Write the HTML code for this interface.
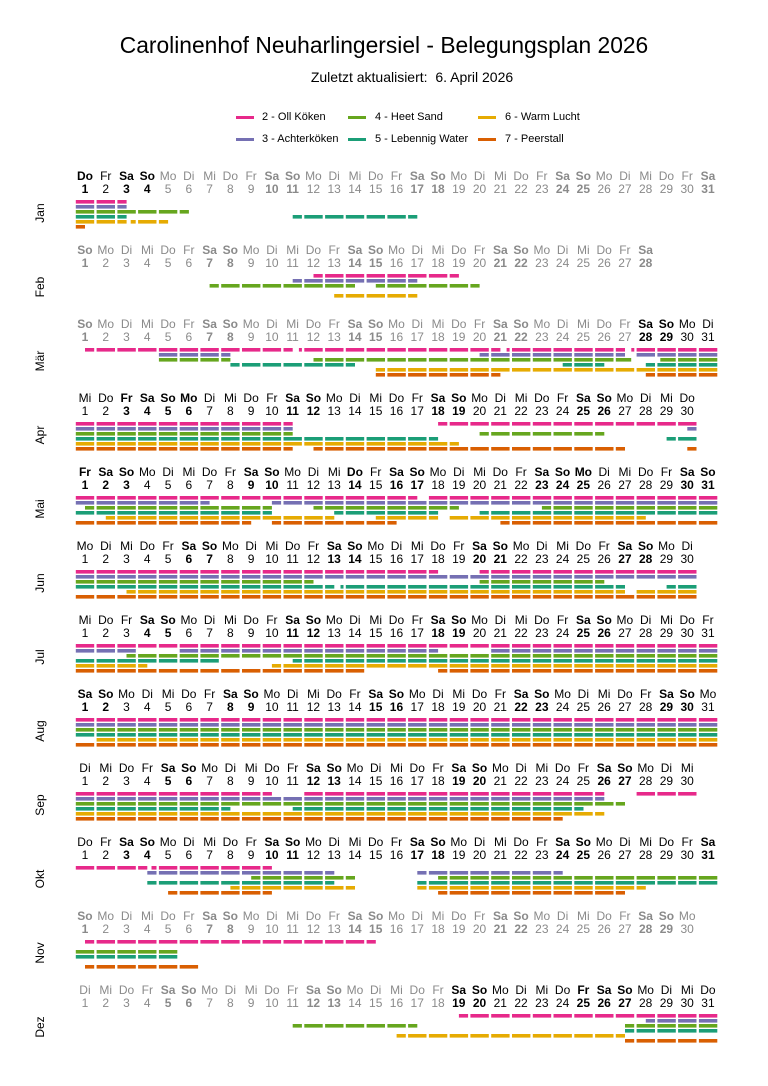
<!DOCTYPE html>
<html><head><meta charset="utf-8">
<style>
body{margin:0;background:#fff;width:768px;height:1086px;position:relative;overflow:hidden;font-family:"Liberation Sans",sans-serif;color:#000}
.t{position:absolute;left:0;width:768px;text-align:center}
.r{position:absolute;left:74.6px;display:flex;font-size:12px;line-height:13px;color:#000}
.r i,.r b{display:block;width:20.77px;text-align:center;font-style:normal;white-space:nowrap}
.r b{font-weight:bold}
.r.g{color:#8a8a8a}.r .g{color:#8a8a8a}.r .k{color:#000}
.m{position:absolute;left:20px;width:40px;text-align:center;font-size:12px;transform:rotate(-90deg)}
.lg{position:absolute;font-size:11px;line-height:13px}
.ln{position:absolute;height:3px}
svg{position:absolute;left:0;top:0}
</style></head><body>
<div class="t" style="top:32px;font-size:22.8px">Carolinenhof Neuharlingersiel - Belegungsplan 2026</div>
<div class="t" style="top:69px;font-size:14px;left:28px">Zuletzt aktualisiert:&nbsp; 6. April 2026</div>

<div class="ln" style="left:236px;top:116px;width:18px;background:#e7298a"></div><div class="lg" style="left:262px;top:111px">2 - Oll Köken</div>
<div class="ln" style="left:348px;top:116px;width:18px;background:#66a61e"></div><div class="lg" style="left:375px;top:111px">4 - Heet Sand</div>
<div class="ln" style="left:478px;top:116px;width:18px;background:#e6ab02"></div><div class="lg" style="left:505px;top:111px">6 - Warm Lucht</div>
<div class="ln" style="left:236px;top:138px;width:18px;background:#7570b3"></div><div class="lg" style="left:262px;top:133px">3 - Achterköken</div>
<div class="ln" style="left:348px;top:138px;width:18px;background:#1b9e77"></div><div class="lg" style="left:375px;top:133px">5 - Lebennig Water</div>
<div class="ln" style="left:478px;top:138px;width:18px;background:#d95f02"></div><div class="lg" style="left:505px;top:133px">7 - Peerstall</div>

<div class="m" style="top:206px">Jan</div>
<div class="m" style="top:280px">Feb</div>
<div class="m" style="top:354px">Mär</div>
<div class="m" style="top:428px">Apr</div>
<div class="m" style="top:502px">Mai</div>
<div class="m" style="top:576px">Jun</div>
<div class="m" style="top:650px">Jul</div>
<div class="m" style="top:724px">Aug</div>
<div class="m" style="top:798px">Sep</div>
<div class="m" style="top:872px">Okt</div>
<div class="m" style="top:946px">Nov</div>
<div class="m" style="top:1020px">Dez</div>

<div class="r g" style="top:170px"><b class="k">Do<br>1</b><i class="k">Fr<br>2</i><b class="k">Sa<br>3</b><b class="k">So<br>4</b><i>Mo<br>5</i><i>Di<br>6</i><i>Mi<br>7</i><i>Do<br>8</i><i>Fr<br>9</i><b>Sa<br>10</b><b>So<br>11</b><i>Mo<br>12</i><i>Di<br>13</i><i>Mi<br>14</i><i>Do<br>15</i><i>Fr<br>16</i><b>Sa<br>17</b><b>So<br>18</b><i>Mo<br>19</i><i>Di<br>20</i><i>Mi<br>21</i><i>Do<br>22</i><i>Fr<br>23</i><b>Sa<br>24</b><b>So<br>25</b><i>Mo<br>26</i><i>Di<br>27</i><i>Mi<br>28</i><i>Do<br>29</i><i>Fr<br>30</i><b>Sa<br>31</b></div>

<div class="r g" style="top:244px"><b>So<br>1</b><i>Mo<br>2</i><i>Di<br>3</i><i>Mi<br>4</i><i>Do<br>5</i><i>Fr<br>6</i><b>Sa<br>7</b><b>So<br>8</b><i>Mo<br>9</i><i>Di<br>10</i><i>Mi<br>11</i><i>Do<br>12</i><i>Fr<br>13</i><b>Sa<br>14</b><b>So<br>15</b><i>Mo<br>16</i><i>Di<br>17</i><i>Mi<br>18</i><i>Do<br>19</i><i>Fr<br>20</i><b>Sa<br>21</b><b>So<br>22</b><i>Mo<br>23</i><i>Di<br>24</i><i>Mi<br>25</i><i>Do<br>26</i><i>Fr<br>27</i><b>Sa<br>28</b></div>

<div class="r g" style="top:318px"><b>So<br>1</b><i>Mo<br>2</i><i>Di<br>3</i><i>Mi<br>4</i><i>Do<br>5</i><i>Fr<br>6</i><b>Sa<br>7</b><b>So<br>8</b><i>Mo<br>9</i><i>Di<br>10</i><i>Mi<br>11</i><i>Do<br>12</i><i>Fr<br>13</i><b>Sa<br>14</b><b>So<br>15</b><i>Mo<br>16</i><i>Di<br>17</i><i>Mi<br>18</i><i>Do<br>19</i><i>Fr<br>20</i><b>Sa<br>21</b><b>So<br>22</b><i>Mo<br>23</i><i>Di<br>24</i><i>Mi<br>25</i><i>Do<br>26</i><i>Fr<br>27</i><b class="k">Sa<br>28</b><b class="k">So<br>29</b><i class="k">Mo<br>30</i><i class="k">Di<br>31</i></div>

<div class="r" style="top:392px"><i>Mi<br>1</i><i>Do<br>2</i><b>Fr<br>3</b><b>Sa<br>4</b><b>So<br>5</b><b>Mo<br>6</b><i>Di<br>7</i><i>Mi<br>8</i><i>Do<br>9</i><i>Fr<br>10</i><b>Sa<br>11</b><b>So<br>12</b><i>Mo<br>13</i><i>Di<br>14</i><i>Mi<br>15</i><i>Do<br>16</i><i>Fr<br>17</i><b>Sa<br>18</b><b>So<br>19</b><i>Mo<br>20</i><i>Di<br>21</i><i>Mi<br>22</i><i>Do<br>23</i><i>Fr<br>24</i><b>Sa<br>25</b><b>So<br>26</b><i>Mo<br>27</i><i>Di<br>28</i><i>Mi<br>29</i><i>Do<br>30</i></div>

<div class="r" style="top:466px"><b>Fr<br>1</b><b>Sa<br>2</b><b>So<br>3</b><i>Mo<br>4</i><i>Di<br>5</i><i>Mi<br>6</i><i>Do<br>7</i><i>Fr<br>8</i><b>Sa<br>9</b><b>So<br>10</b><i>Mo<br>11</i><i>Di<br>12</i><i>Mi<br>13</i><b>Do<br>14</b><i>Fr<br>15</i><b>Sa<br>16</b><b>So<br>17</b><i>Mo<br>18</i><i>Di<br>19</i><i>Mi<br>20</i><i>Do<br>21</i><i>Fr<br>22</i><b>Sa<br>23</b><b>So<br>24</b><b>Mo<br>25</b><i>Di<br>26</i><i>Mi<br>27</i><i>Do<br>28</i><i>Fr<br>29</i><b>Sa<br>30</b><b>So<br>31</b></div>

<div class="r" style="top:540px"><i>Mo<br>1</i><i>Di<br>2</i><i>Mi<br>3</i><i>Do<br>4</i><i>Fr<br>5</i><b>Sa<br>6</b><b>So<br>7</b><i>Mo<br>8</i><i>Di<br>9</i><i>Mi<br>10</i><i>Do<br>11</i><i>Fr<br>12</i><b>Sa<br>13</b><b>So<br>14</b><i>Mo<br>15</i><i>Di<br>16</i><i>Mi<br>17</i><i>Do<br>18</i><i>Fr<br>19</i><b>Sa<br>20</b><b>So<br>21</b><i>Mo<br>22</i><i>Di<br>23</i><i>Mi<br>24</i><i>Do<br>25</i><i>Fr<br>26</i><b>Sa<br>27</b><b>So<br>28</b><i>Mo<br>29</i><i>Di<br>30</i></div>

<div class="r" style="top:614px"><i>Mi<br>1</i><i>Do<br>2</i><i>Fr<br>3</i><b>Sa<br>4</b><b>So<br>5</b><i>Mo<br>6</i><i>Di<br>7</i><i>Mi<br>8</i><i>Do<br>9</i><i>Fr<br>10</i><b>Sa<br>11</b><b>So<br>12</b><i>Mo<br>13</i><i>Di<br>14</i><i>Mi<br>15</i><i>Do<br>16</i><i>Fr<br>17</i><b>Sa<br>18</b><b>So<br>19</b><i>Mo<br>20</i><i>Di<br>21</i><i>Mi<br>22</i><i>Do<br>23</i><i>Fr<br>24</i><b>Sa<br>25</b><b>So<br>26</b><i>Mo<br>27</i><i>Di<br>28</i><i>Mi<br>29</i><i>Do<br>30</i><i>Fr<br>31</i></div>

<div class="r" style="top:688px"><b>Sa<br>1</b><b>So<br>2</b><i>Mo<br>3</i><i>Di<br>4</i><i>Mi<br>5</i><i>Do<br>6</i><i>Fr<br>7</i><b>Sa<br>8</b><b>So<br>9</b><i>Mo<br>10</i><i>Di<br>11</i><i>Mi<br>12</i><i>Do<br>13</i><i>Fr<br>14</i><b>Sa<br>15</b><b>So<br>16</b><i>Mo<br>17</i><i>Di<br>18</i><i>Mi<br>19</i><i>Do<br>20</i><i>Fr<br>21</i><b>Sa<br>22</b><b>So<br>23</b><i>Mo<br>24</i><i>Di<br>25</i><i>Mi<br>26</i><i>Do<br>27</i><i>Fr<br>28</i><b>Sa<br>29</b><b>So<br>30</b><i>Mo<br>31</i></div>

<div class="r" style="top:762px"><i>Di<br>1</i><i>Mi<br>2</i><i>Do<br>3</i><i>Fr<br>4</i><b>Sa<br>5</b><b>So<br>6</b><i>Mo<br>7</i><i>Di<br>8</i><i>Mi<br>9</i><i>Do<br>10</i><i>Fr<br>11</i><b>Sa<br>12</b><b>So<br>13</b><i>Mo<br>14</i><i>Di<br>15</i><i>Mi<br>16</i><i>Do<br>17</i><i>Fr<br>18</i><b>Sa<br>19</b><b>So<br>20</b><i>Mo<br>21</i><i>Di<br>22</i><i>Mi<br>23</i><i>Do<br>24</i><i>Fr<br>25</i><b>Sa<br>26</b><b>So<br>27</b><i>Mo<br>28</i><i>Di<br>29</i><i>Mi<br>30</i></div>

<div class="r" style="top:836px"><i>Do<br>1</i><i>Fr<br>2</i><b>Sa<br>3</b><b>So<br>4</b><i>Mo<br>5</i><i>Di<br>6</i><i>Mi<br>7</i><i>Do<br>8</i><i>Fr<br>9</i><b>Sa<br>10</b><b>So<br>11</b><i>Mo<br>12</i><i>Di<br>13</i><i>Mi<br>14</i><i>Do<br>15</i><i>Fr<br>16</i><b>Sa<br>17</b><b>So<br>18</b><i>Mo<br>19</i><i>Di<br>20</i><i>Mi<br>21</i><i>Do<br>22</i><i>Fr<br>23</i><b>Sa<br>24</b><b>So<br>25</b><i>Mo<br>26</i><i>Di<br>27</i><i>Mi<br>28</i><i>Do<br>29</i><i>Fr<br>30</i><b>Sa<br>31</b></div>

<div class="r g" style="top:910px"><b>So<br>1</b><i>Mo<br>2</i><i>Di<br>3</i><i>Mi<br>4</i><i>Do<br>5</i><i>Fr<br>6</i><b>Sa<br>7</b><b>So<br>8</b><i>Mo<br>9</i><i>Di<br>10</i><i>Mi<br>11</i><i>Do<br>12</i><i>Fr<br>13</i><b>Sa<br>14</b><b>So<br>15</b><i>Mo<br>16</i><i>Di<br>17</i><i>Mi<br>18</i><i>Do<br>19</i><i>Fr<br>20</i><b>Sa<br>21</b><b>So<br>22</b><i>Mo<br>23</i><i>Di<br>24</i><i>Mi<br>25</i><i>Do<br>26</i><i>Fr<br>27</i><b>Sa<br>28</b><b>So<br>29</b><i>Mo<br>30</i></div>

<div class="r g" style="top:984px"><i>Di<br>1</i><i>Mi<br>2</i><i>Do<br>3</i><i>Fr<br>4</i><b>Sa<br>5</b><b>So<br>6</b><i>Mo<br>7</i><i>Di<br>8</i><i>Mi<br>9</i><i>Do<br>10</i><i>Fr<br>11</i><b>Sa<br>12</b><b>So<br>13</b><i>Mo<br>14</i><i>Di<br>15</i><i>Mi<br>16</i><i>Do<br>17</i><i>Fr<br>18</i><b class="k">Sa<br>19</b><b class="k">So<br>20</b><i class="k">Mo<br>21</i><i class="k">Di<br>22</i><i class="k">Mi<br>23</i><i class="k">Do<br>24</i><b class="k">Fr<br>25</b><b class="k">Sa<br>26</b><b class="k">So<br>27</b><i class="k">Mo<br>28</i><i class="k">Di<br>29</i><i class="k">Mi<br>30</i><i class="k">Do<br>31</i></div>

<svg id="s" width="768" height="1086"></svg>
<script>
var C=["#e7298a","#7570b3","#66a61e","#1b9e77","#e6ab02","#d95f02"];
var D=[
[[[0.5,3]],[[0.5,3]],[[0.5,6]],[[0.5,3],[11,17]],[[0.5,3],[3.2,5]],[[0.5,1]]],
[[[12,19]],[[11,17]],[[7,14],[15,20]],[],[[13,17]],[]],
[[[1,11],[11.3,21],[21.3,27],[27.3,31.5]],[[4.5,8],[20,27],[27.5,31.5]],[[4.5,8],[12,27.3],[28.7,31.5]],[[8,14],[24,26],[28,31.5]],[[15,31.5]],[[15,21],[28,31.5]]],
[[[0.5,11],[18,30.5]],[[0.5,11],[30,30.5]],[[0.5,11],[20,26]],[[0.5,18],[29,30.5]],[[0.5,19]],[[0.5,11],[12,27],[30,30.5]]],
[[[0.5,17],[17.5,31.5]],[[0.5,7],[10,31.5]],[[1,10],[12,19],[23,31.5]],[[0.5,10],[13,18],[20,31.5]],[[2,13],[15,18],[18.5,28]],[[0.5,9],[10,16],[21,31.5]]],
[[[0.5,18],[20,30.5]],[[0.5,30.5]],[[0.5,12],[20,26]],[[0.5,13],[13.3,27],[29,30.5]],[[3,27],[27.5,30.5]],[[0.5,30.5]]],
[[[0.5,31.5]],[[0.5,3.5],[5.5,18],[20.5,31.5]],[[3,31.5]],[[0.5,7.5],[11,31.5]],[[0.5,4],[10,31.5]],[[0.5,14.5],[18,31.5]]],
[[[0.5,31.5]],[[0.5,31.5]],[[0.5,31.5]],[[0.5,31.5]],[[1.5,31.5]],[[0.5,31.5]]],
[[[0.5,10],[11.5,26],[27.5,30.5]],[[0.5,26]],[[0.5,27]],[[0.5,8],[11,25]],[[0.5,26]],[[0.5,24]]],
[[[0.5,4],[4.2,10]],[[4,13],[17,24]],[[9,14],[18,31.5]],[[4,13],[17,31.5]],[[8,14],[17,28]],[[5,10],[18,27]]],
[[[1,15]],[],[[0.5,5.5]],[[0.5,5.5]],[],[[1,6.5]]],
[[[19,31.5]],[[28,31.5]],[[11,17],[27,31.5]],[[27,31.5]],[[16,27]],[[27,31.5]]]
];
var W=20.77,X=function(v){return 85+(v-1)*W;},h='';
D.forEach(function(m,mi){m.forEach(function(r,k){var y=200+74*mi+5*k;r.forEach(function(iv){
for(var d=1;d<=31;d++){var lo=Math.max(iv[0],d-0.5),hi=Math.min(iv[1],d+0.5);if(hi<=lo)continue;
var x1=X(lo),x2=X(hi);if(lo==d-0.5)x1+=1.2;if(hi==d+0.5)x2-=1.2;
h+='<rect x="'+x1.toFixed(1)+'" y="'+y+'" width="'+(x2-x1).toFixed(1)+'" height="3.6" fill="'+C[k]+'"/>';}
});});});
document.getElementById('s').innerHTML=h;
</script>
</body></html>
